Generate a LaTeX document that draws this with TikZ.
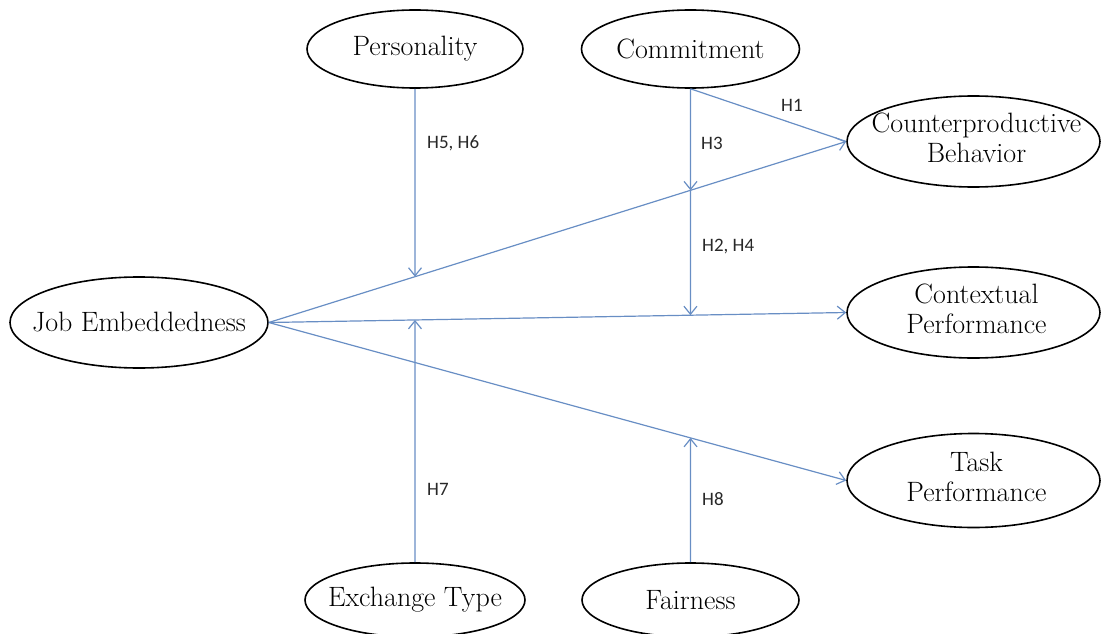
\documentclass[tikz,border=0pt]{standalone}
\usepackage{fontspec}
\newfontfamily\lblfont{Carlito}
\usetikzlibrary{shapes.geometric,arrows.meta}
\definecolor{linkblue}{RGB}{104,142,196}
\definecolor{lbltext}{RGB}{40,40,40}
\begin{document}
\begin{tikzpicture}[x=1pt,y=-1pt,
  oval/.style 2 args={ellipse, draw=black, line width=1.6pt, minimum width=#1, minimum height=#2, inner sep=0pt, font=\fontsize{28}{30}\selectfont},
  link/.style={draw=linkblue, line width=1.2pt, -{Straight Barb[length=8pt,width=13pt,line width=1.2pt]}},
  plainlink/.style={draw=linkblue, line width=1.2pt},
  hlabel/.style={anchor=west, inner sep=0pt, font=\lblfont\fontsize{19}{21}\selectfont, text=lbltext}]
\useasboundingbox (0,0) rectangle (1101,634);

\node[oval={216pt}{78pt}] (per) at (415,49) {\makebox[0pt]{Personality}};
\node[oval={218pt}{78pt}] (com) at (690.5,49) {\makebox[0pt]{Commitment}};
\node[oval={258pt}{91pt}] (je) at (139,322.5) {\makebox[0pt]{\raisebox{-2pt}{Job Embeddedness}}};
\node[oval={253pt}{91pt}] (cb) at (973.5,141.5) {\makebox[0pt]{\hspace{6pt}\begin{tabular}{@{}c@{}}Counterproductive\\Behavior\end{tabular}}};
\node[oval={253pt}{91pt}] (ctx) at (973.5,312.5) {\makebox[0pt]{\hspace{6pt}\begin{tabular}{@{}c@{}}Contextual\\Performance\end{tabular}}};
\node[oval={253pt}{94pt}] (task) at (973.5,480.5) {\makebox[0pt]{\hspace{6pt}\begin{tabular}{@{}c@{}}Task\\Performance\end{tabular}}};
\node[oval={220pt}{74pt}] (ex) at (415,600) {\makebox[0pt]{Exchange Type}};
\node[oval={217pt}{74pt}] (fa) at (690.5,600) {\makebox[0pt]{Fairness}};

\coordinate (a1) at (intersection of je.east--cb.west and per.south--ex.north);
\coordinate (a2) at (intersection of je.east--cb.west and com.south--fa.north);
\coordinate (a3) at (intersection of je.east--ctx.west and com.south--fa.north);
\coordinate (a4) at (intersection of je.east--ctx.west and per.south--ex.north);
\coordinate (a5) at (intersection of je.east--task.west and com.south--fa.north);

\draw[link] (je.east) -- (cb.west);
\draw[link] (je.east) -- (ctx.west);
\draw[link] (je.east) -- (task.west);
\draw[plainlink] (com.south) -- (cb.west);
\draw[link] (com.south) -- (a2);
\draw[link] (a2) -- (a3);
\draw[link] (per.south) -- (a1);
\draw[link] (ex.north) -- (a4);
\draw[link] (fa.north) -- (a5);

\node[hlabel] (h1) at (781,105) {H1};
\node[hlabel] (h3) at (701,143) {H3};
\node[hlabel] (h56) at (427,143) {H5, H6};
\node[hlabel] (h24) at (702,247) {H2, H4};
\node[hlabel] (h7) at (427,489) {H7};
\node[hlabel] (h8) at (702,499) {H8};
\end{tikzpicture}
\end{document}
